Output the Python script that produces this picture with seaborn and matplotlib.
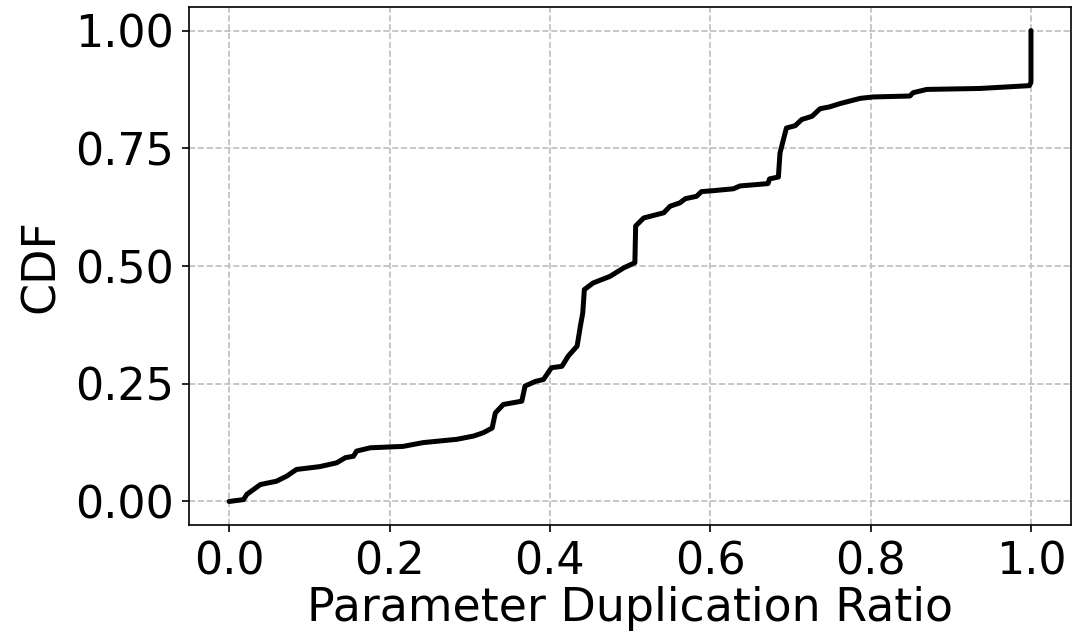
import matplotlib
matplotlib.use("Agg")
import matplotlib.pyplot as plt
import seaborn as sns
import pandas as pd

# CDF curve
ratio = [0.000, 0.018, 0.022, 0.039, 0.059, 0.072, 0.084, 0.113, 0.134, 0.145,
         0.155, 0.159, 0.176, 0.217, 0.242, 0.284, 0.305, 0.317, 0.328, 0.332,
         0.342, 0.365, 0.369, 0.382, 0.392, 0.402, 0.415, 0.423, 0.434, 0.438,
         0.441, 0.443, 0.454, 0.475, 0.492, 0.506, 0.507, 0.517, 0.542, 0.550,
         0.562, 0.569, 0.583, 0.589, 0.604, 0.629, 0.637, 0.672, 0.674, 0.685,
         0.687, 0.695, 0.706, 0.714, 0.727, 0.737, 0.749, 0.762, 0.787, 0.803,
         0.849, 0.853, 0.870, 0.936, 0.998, 1.000, 1.000]
cdf = [0.000, 0.004, 0.015, 0.036, 0.043, 0.054, 0.068, 0.074, 0.082, 0.093,
       0.096, 0.107, 0.114, 0.117, 0.125, 0.132, 0.139, 0.146, 0.156, 0.188,
       0.206, 0.213, 0.245, 0.255, 0.259, 0.284, 0.287, 0.309, 0.330, 0.372,
       0.400, 0.450, 0.464, 0.478, 0.496, 0.507, 0.585, 0.602, 0.613, 0.627,
       0.634, 0.643, 0.648, 0.658, 0.660, 0.664, 0.670, 0.675, 0.685, 0.689,
       0.740, 0.793, 0.798, 0.811, 0.818, 0.834, 0.838, 0.845, 0.856, 0.859,
       0.861, 0.868, 0.875, 0.877, 0.883, 0.890, 1.000]

x_ticks = [0.0, 0.2, 0.4, 0.6, 0.8, 1.0]
y_ticks = [0.00, 0.25, 0.50, 0.75, 1.00]
x_label = "Parameter Duplication Ratio"
y_label = "CDF"

sns.set_theme(style="ticks")
plt.rcParams['font.family'] = ['DejaVu Sans']
plt.rcParams['text.color'] = 'black'
plt.rcParams['axes.labelcolor'] = 'black'
plt.rcParams['xtick.color'] = 'black'
plt.rcParams['ytick.color'] = 'black'

df = pd.DataFrame({"ratio": ratio, "cdf": cdf})

fig = plt.figure(figsize=(10.76, 6.37), dpi=100)
ax = fig.add_axes([0.1757, 0.1758, 0.9954 - 0.1757, 0.989 - 0.1758])

sns.lineplot(data=df, x="ratio", y="cdf", ax=ax, color="black", linewidth=3.6,
             estimator=None, sort=False, solid_joinstyle="round",
             solid_capstyle="round")

ax.set_xlim(-0.05, 1.05)
ax.set_ylim(-0.05, 1.05)
ax.set_xticks(x_ticks)
ax.set_xticklabels([f"{t:.1f}" for t in x_ticks])
ax.set_yticks(y_ticks)
ax.set_yticklabels([f"{t:.2f}" for t in y_ticks])
ax.set_xlabel(x_label, fontsize=33, labelpad=2, color="black")
ax.set_ylabel(y_label, fontsize=33, labelpad=8, color="black")
ax.tick_params(axis="both", labelsize=32, length=5, width=1.2, color="black",
               labelcolor="black", direction="out", pad=6)
ax.grid(True, linestyle="--", color="#bdbdbd", linewidth=1.2)
for s in ax.spines.values():
    s.set_visible(True)
    s.set_color("black")
    s.set_linewidth(1.2)

fig.savefig("out.png", dpi=100, facecolor="white")
